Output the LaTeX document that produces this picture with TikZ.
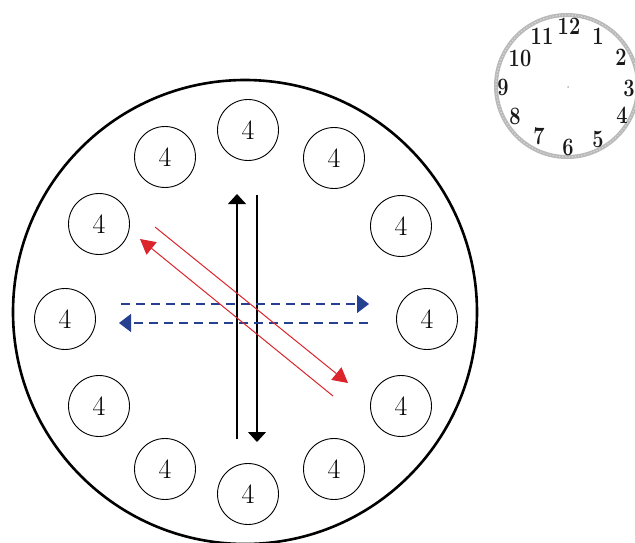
\documentclass[tikz,border=0pt]{standalone}
\usepackage{graphicx}
\usetikzlibrary{arrows.meta}
\definecolor{redarrow}{RGB}{220,36,44}
\definecolor{bluearrow}{RGB}{38,64,145}
\newcommand{\cnum}[1]{\scalebox{0.8}[1]{#1}}
\tikzset{
  seat/.style={circle,draw=black,line width=0.9pt,minimum size=61pt,inner sep=0pt,font=\fontsize{28}{30}\selectfont},
  blackarr/.style={line width=1.2pt,-{Triangle[length=10pt,width=18pt]}},
  bluearr/.style={line width=1.2pt,bluearrow,dash pattern=on 9pt off 6pt,-{Triangle[length=12pt,width=18pt]}},
  redarr/.style={line width=1pt,redarrow,-{Triangle[length=15pt,width=16pt]}},
  clocknum/.style={font=\fontsize{25}{26}\selectfont\bfseries,text=black!90,inner sep=0pt}
}
\begin{document}
\begin{tikzpicture}[x=1pt,y=-1pt]
\useasboundingbox (0,0) rectangle (635,543);
\begin{scope}
\clip (0,0) rectangle (635,543);
% big table
\draw[line width=2.6pt] (245,312) circle (232);
% clock
\draw[gray!55,line width=4pt] (567,86) circle (71);
\draw[gray!30,line width=1.2pt,dotted] (567,86) circle (71);
\end{scope}
\fill[gray!60] (568,87) circle (1pt);
\node[clocknum] (h12) at (569,26) {\cnum{12}};
\node[clocknum] (h1) at (598,36) {\cnum{1}};
\node[clocknum] (h2) at (621,57) {\cnum{2}};
\node[clocknum] (h3) at (629,88) {\cnum{3}};
\node[clocknum] (h4) at (622,115) {\cnum{4}};
\node[clocknum] (h5) at (598,139) {\cnum{5}};
\node[clocknum] (h6) at (568,147) {\cnum{6}};
\node[clocknum] (h7) at (539,136) {\cnum{7}};
\node[clocknum] (h8) at (515,116) {\cnum{8}};
\node[clocknum] (h9) at (503,87) {\cnum{9}};
\node[clocknum] (h10) at (520,58) {\cnum{10}};
\node[clocknum] (h11) at (542,36) {\cnum{11}};
% seats
\node[seat] (s12) at (248,130) {4};
\node[seat] (s1) at (334,158) {4};
\node[seat] (s2) at (401,226) {4};
\node[seat] (s3) at (427,319) {4};
\node[seat] (s4) at (401,406) {4};
\node[seat] (s5) at (334,469) {4};
\node[seat] (s6) at (248,494) {4};
\node[seat] (s7) at (165,469) {4};
\node[seat] (s8) at (99,406) {4};
\node[seat] (s9) at (65,319) {4};
\node[seat] (s10) at (99,224) {4};
\node[seat] (s11) at (165,157) {4};
% arrow ends
\coordinate (bu0) at (237,439);
\coordinate (bu1) at (237,194);
\coordinate (bd0) at (257,195);
\coordinate (bd1) at (257,442);
\coordinate (br0) at (121,304);
\coordinate (br1) at (369,304);
\coordinate (bl0) at (368,323);
\coordinate (bl1) at (119,323);
\coordinate (rd0) at (155,227);
\coordinate (rd1) at (348,383);
\coordinate (ru0) at (333,396);
\coordinate (ru1) at (140,239);
\draw[blackarr] (bu0) -- (bu1);
\draw[blackarr] (bd0) -- (bd1);
\draw[bluearr] (br0) -- (br1);
\draw[bluearr] (bl0) -- (bl1);
\draw[redarr] (rd0) -- (rd1);
\draw[redarr] (ru0) -- (ru1);
\end{tikzpicture}
\end{document}
